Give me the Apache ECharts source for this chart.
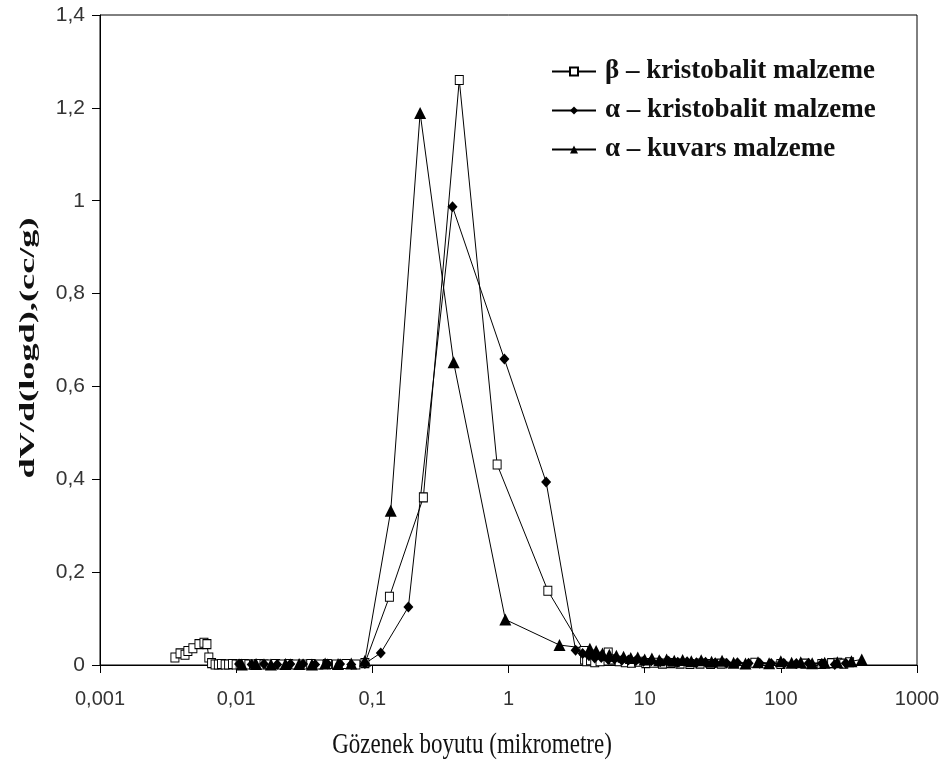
<!DOCTYPE html>
<html>
<head>
<meta charset="utf-8">
<script src="https://cdn.jsdelivr.net/npm/echarts@6/dist/echarts.min.js"></script>
<style>
  html, body { margin: 0; padding: 0; background: #fff; }
  #chart { width: 945px; height: 765px; }
</style>
</head>
<body>
<div id="chart"></div>
<script>
// tick labels (comma decimals, as in the original)
const xTickLabels = ['0,001', '0,01', '0,1', '1', '10', '100', '1000']
const xTitle = 'Gözenek boyutu (mikrometre)'
const yTitle = 'dV/d(logd),(cc/g)'

// β - kristobalit (hollow squares)
const betaX = [0.00355, 0.00387, 0.00421, 0.00442, 0.00481, 0.00533, 0.0058, 0.0061, 0.0063, 0.0066,
  0.0070, 0.0074, 0.0078, 0.0083, 0.0088, 0.0094, 0.0100, 0.0107, 0.0115, 0.0124,
  0.0134, 0.0146, 0.016, 0.0176, 0.0195, 0.0217, 0.0243, 0.0274, 0.031, 0.0353,
  0.0405, 0.0468, 0.0545, 0.064, 0.0757, 0.0882, 0.1335, 0.237, 0.435, 0.825,
  1.945, 3.58, 3.62, 3.75, 4.0, 4.3, 4.7, 5.1, 5.4, 5.9,
  6.5, 7.2, 8.0, 9.0, 10.2, 11.7, 13.5, 15.6, 18.2, 21.5,
  25.5, 30.5, 36.5, 64.4, 100, 150, 200, 236, 262, 290, 320]
const betaY = [0.016, 0.025, 0.022, 0.030, 0.036, 0.045, 0.048, 0.045, 0.016, 0.004,
  0.001, 0.001, 0.002, 0.001, 0.001, 0.002, 0.001, 0.001, 0.002, 0.001,
  0.001, 0.002, 0.001, 0.001, 0.002, 0.001, 0.002, 0.001, 0.001, 0.002,
  0.001, 0.002, 0.001, 0.002, 0.001, 0.004, 0.147, 0.361, 1.26, 0.432,
  0.16, 0.03, 0.012, 0.008, 0.01, 0.006, 0.008, 0.02, 0.027, 0.012,
  0.008, 0.006, 0.005, 0.007, 0.004, 0.005, 0.003, 0.004, 0.003, 0.002,
  0.003, 0.002, 0.003, 0.005, 0.002, 0.003, 0.002, 0.004, 0.005, 0.003, 0.006]

// α - kristobalit (filled diamonds)
const aKrisX = [0.0105, 0.013, 0.016, 0.02, 0.025, 0.031, 0.038, 0.047, 0.058, 0.07,
  0.0882, 0.1153, 0.184, 0.388, 0.933, 1.89, 3.11, 3.5, 3.9, 4.3,
  4.8, 5.4, 6.0, 6.8, 7.6, 8.6, 9.8, 11.2, 13, 15,
  17.5, 20.5, 24, 28, 33, 40, 48, 58, 70, 85,
  105, 130, 160, 200, 249, 300]
const aKrisY = [0.002, 0.001, 0.002, 0.001, 0.002, 0.002, 0.001, 0.002, 0.002, 0.001,
  0.003, 0.026, 0.125, 0.987, 0.659, 0.394, 0.032, 0.025, 0.02, 0.015,
  0.016, 0.012, 0.013, 0.01, 0.011, 0.009, 0.008, 0.009, 0.007, 0.008,
  0.006, 0.007, 0.005, 0.006, 0.005, 0.004, 0.005, 0.004, 0.004, 0.003,
  0.004, 0.003, 0.004, 0.003, 0.001, 0.004]

// α - kuvars (filled triangles)
const aKuvX = [0.011, 0.014, 0.018, 0.023, 0.029, 0.036, 0.045, 0.056, 0.07, 0.0882,
  0.1365, 0.2244, 0.3954, 0.948, 2.37, 3.96, 4.4, 4.9, 5.5, 6.2,
  7.0, 7.9, 8.9, 10, 11.3, 12.8, 14.5, 16.5, 19, 22,
  26, 31, 37, 45, 55, 68, 82, 100, 120, 140,
  170, 210, 260, 330, 393]
const aKuvY = [0.001, 0.002, 0.001, 0.002, 0.002, 0.001, 0.003, 0.002, 0.003, 0.009,
  0.332, 1.189, 0.652, 0.098, 0.043, 0.035, 0.03, 0.025, 0.022, 0.02,
  0.018, 0.015, 0.016, 0.012, 0.014, 0.01, 0.012, 0.009, 0.011, 0.008,
  0.01, 0.007, 0.009, 0.005, 0.003, 0.006, 0.004, 0.008, 0.005, 0.006,
  0.004, 0.005, 0.006, 0.008, 0.012]

const zip = (xs, ys) => xs.map((x, i) => [x, ys[i]])

const chart = echarts.init(document.getElementById('chart'))

const serif = 'Liberation Serif, Times New Roman, serif'
const sans = 'Liberation Sans, Arial, sans-serif'
const lineStyle = { color: '#000', width: 1 }

chart.setOption({
  animation: false,
  backgroundColor: '#fff',
  grid: {
    left: 100, top: 15, width: 817, height: 650,
    show: true, borderColor: '#000', borderWidth: 1, backgroundColor: 'transparent',
  },
  // axis titles look stretched vertically in the original, so draw them as scaled text
  graphic: [
    {
      type: 'text', x: 472, y: 745, scaleY: 1.3,
      style: { text: xTitle, font: '23px ' + serif, fill: '#111', align: 'center', verticalAlign: 'middle' },
    },
    {
      type: 'text', x: 28, y: 348, rotation: Math.PI / 2, scaleX: 1.65,
      style: { text: yTitle, font: 'bold 22px ' + serif, fill: '#111', align: 'center', verticalAlign: 'middle' },
    },
  ],
  legend: {
    orient: 'vertical',
    left: 546, top: 53,
    itemWidth: 44, itemHeight: 10, itemGap: 12,
    textStyle: { fontFamily: serif, fontWeight: 'bold', fontSize: 27, color: '#111', padding: [0, 0, 0, 4] },
    data: ['β – kristobalit malzeme', 'α – kristobalit malzeme', 'α – kuvars malzeme'],
  },
  xAxis: {
    type: 'log', logBase: 10, min: 0.001, max: 1000,
    axisLine: { lineStyle: { color: '#000', width: 1 } },
    axisTick: { show: true, length: 8, inside: false, lineStyle: { color: '#000' } },
    minorTick: { show: false },
    splitLine: { show: false },
    axisLabel: {
      margin: 24, fontFamily: sans, fontSize: 20, color: '#333',
      formatter: v => xTickLabels[Math.round(Math.log10(v)) + 3],
    },
  },
  yAxis: {
    type: 'value', min: 0, max: 1.4, interval: 0.2,
    axisLine: { show: true, lineStyle: { color: '#000', width: 1 } },
    axisTick: { show: true, length: 8, lineStyle: { color: '#000' } },
    splitLine: { show: false },
    axisLabel: {
      margin: 15, fontFamily: sans, fontSize: 21, color: '#333',
      formatter: v => String(+v.toFixed(1)).replace('.', ','),
    },
  },
  series: [
    {
      name: 'β – kristobalit malzeme', type: 'line',
      data: zip(betaX, betaY),
      symbol: 'rect', symbolSize: [8, 9], showAllSymbol: true,
      itemStyle: { color: '#fff', borderColor: '#000', borderWidth: 1 },
      lineStyle,
    },
    {
      name: 'α – kristobalit malzeme', type: 'line',
      data: zip(aKrisX, aKrisY),
      symbol: 'diamond', symbolSize: [10, 11], showAllSymbol: true,
      itemStyle: { color: '#000' },
      lineStyle,
    },
    {
      name: 'α – kuvars malzeme', type: 'line',
      data: zip(aKuvX, aKuvY),
      symbol: 'triangle', symbolSize: [12, 12], showAllSymbol: true,
      itemStyle: { color: '#000' },
      lineStyle,
    },
  ],
})
</script>
</body>
</html>
